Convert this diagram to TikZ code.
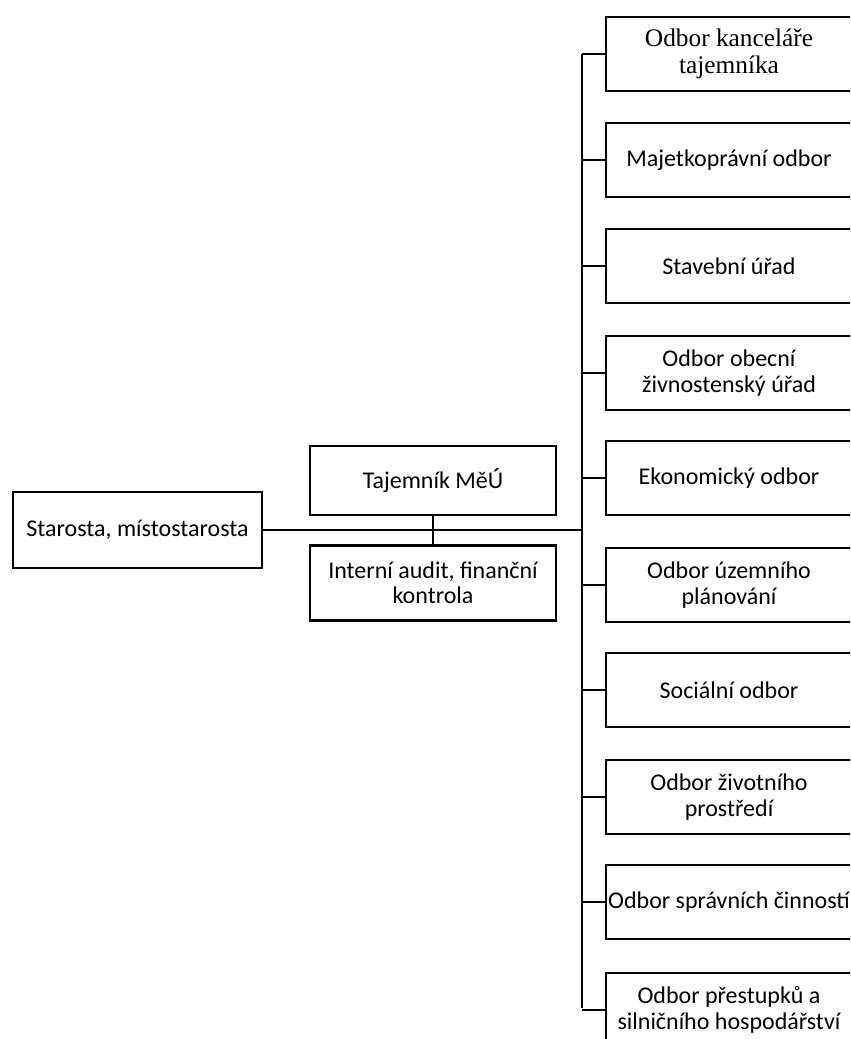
\documentclass[tikz,border=0pt]{standalone}
\usepackage{fontspec}
\setmainfont{Carlito}
\newfontfamily\serifbox{Liberation Serif}
\usetikzlibrary{positioning}

\begin{document}
\begin{tikzpicture}[x=0.75pt,y=0.75pt,yscale=-1,xscale=1,
  orgbox/.style={draw=black,line width=1.8pt,inner sep=0pt,align=center,
    font=\fontsize{18}{19}\selectfont},
  leftbox/.style={orgbox,minimum width=249*0.75pt,minimum height=76*0.75pt},
  midbox/.style={orgbox,minimum width=246*0.75pt},
  deptbox/.style={orgbox,minimum width=246*0.75pt,minimum height=74*0.75pt},
  link/.style={line width=1.8pt}]

\useasboundingbox (0,0) rectangle (850,1039);
\clip (0,0) rectangle (850,1039);

% left part
\node (starosta) [leftbox] at (137.5,530) {Starosta, místostarosta};
\node (tajemnik) [midbox,minimum height=69*0.75pt] at (433,480.5) {Tajemník MěÚ};
\node (audit) [midbox,minimum height=75*0.75pt] at (433,583) {Interní audit, finanční\\ kontrola};

% departments
\node (kancelar) [deptbox,font=\serifbox\fontsize{19}{20}\selectfont] at (729,54) {Odbor kanceláře\\ tajemníka};
\node (majetek) [deptbox] at (729,160) {Majetkoprávní odbor};
\node (stavebni) [deptbox] at (729,266) {Stavební úřad};
\node (zivnost) [deptbox] at (729,373) {Odbor obecní\\ živnostenský úřad};
\node (ekonom) [deptbox] at (729,478) {Ekonomický odbor};
\node (uzemni) [deptbox] at (729,585) {Odbor územního\\ plánování};
\node (socialni) [deptbox] at (729,690) {Sociální odbor};
\node (prostredi) [deptbox] at (729,797) {Odbor životního\\ prostředí};
\node (spravni) [deptbox] at (729,902) {Odbor správních činností};
\node (prestupky) [deptbox] at (729,1010) {Odbor přestupků a\\ silničního hospodářství};

% connectors
\coordinate (spinetop) at (582,54);
\coordinate (spinebot) at (582,1008);
\draw [link] (spinetop) -- (spinebot);
\draw [link] (starosta.east) -- (starosta.east -| spinetop);
\draw [link] (tajemnik.south) -- (audit.north);
\draw [link] (kancelar.west) -- (kancelar.west -| spinetop);
\draw [link] (majetek.west) -- (majetek.west -| spinetop);
\draw [link] (stavebni.west) -- (stavebni.west -| spinetop);
\draw [link] (zivnost.west) -- (zivnost.west -| spinetop);
\draw [link] (ekonom.west) -- (ekonom.west -| spinetop);
\draw [link] (uzemni.west) -- (uzemni.west -| spinetop);
\draw [link] (socialni.west) -- (socialni.west -| spinetop);
\draw [link] (prostredi.west) -- (prostredi.west -| spinetop);
\draw [link] (spravni.west) -- (spravni.west -| spinetop);
\draw [link] (prestupky.west -| spinetop) -- (prestupky.west);

\end{tikzpicture}
\end{document}
